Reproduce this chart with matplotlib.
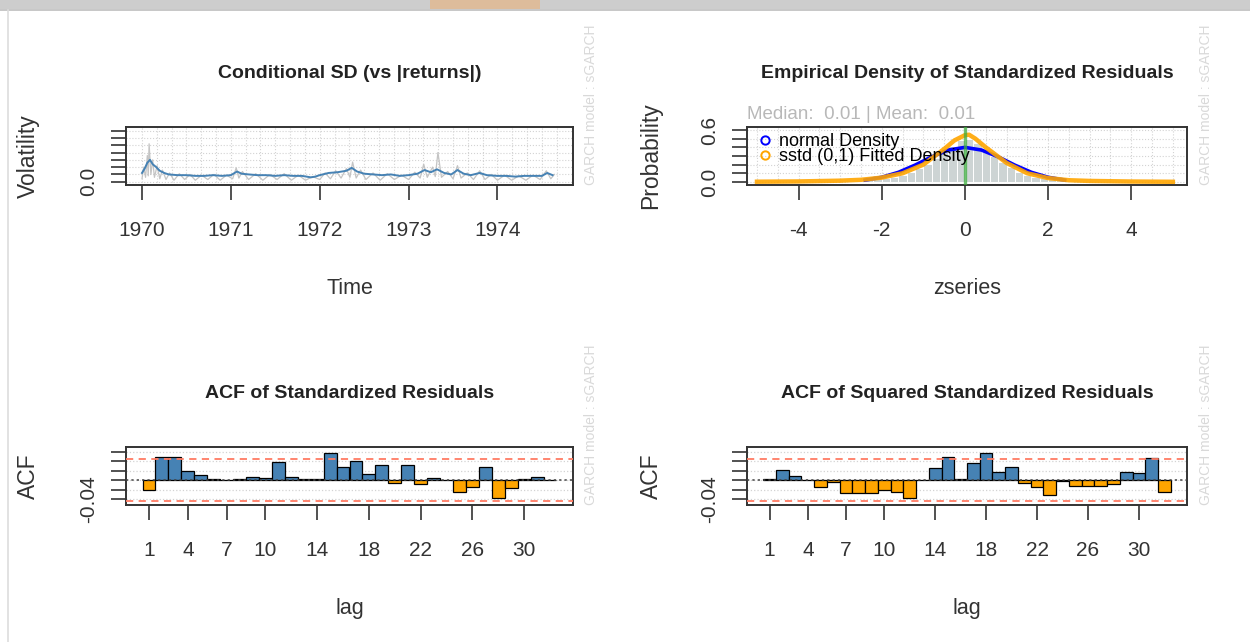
import matplotlib
matplotlib.use("Agg")
import matplotlib.pyplot as plt
import numpy as np
from matplotlib.lines import Line2D
from matplotlib.patches import Rectangle

plt.rcParams["font.family"] = ["Liberation Sans", "DejaVu Sans"]

W, H = 1250, 642

# --- conditional SD panel ---
sigma_time = [1970.00, 1970.03, 1970.06, 1970.09, 1970.12, 1970.16, 1970.20, 1970.25, 1970.30,
              1970.40, 1970.50, 1970.60, 1970.70, 1970.80, 1970.90, 1971.00, 1971.07, 1971.12,
              1971.20, 1971.30, 1971.40, 1971.50, 1971.60, 1971.70, 1971.80, 1971.90, 1971.95,
              1972.00, 1972.10, 1972.20, 1972.30, 1972.36, 1972.42, 1972.50, 1972.60, 1972.70,
              1972.80, 1972.90, 1973.00, 1973.10, 1973.18, 1973.25, 1973.32, 1973.40, 1973.48,
              1973.55, 1973.62, 1973.70, 1973.80, 1973.88, 1974.00, 1974.10, 1974.20, 1974.30,
              1974.40, 1974.50, 1974.56, 1974.62]
sigma_value = [0.012, 0.018, 0.026, 0.030, 0.024, 0.020, 0.015, 0.012, 0.010,
               0.009, 0.009, 0.008, 0.008, 0.009, 0.008, 0.009, 0.014, 0.011,
               0.010, 0.009, 0.009, 0.008, 0.009, 0.008, 0.008, 0.006, 0.007,
               0.009, 0.012, 0.013, 0.015, 0.019, 0.014, 0.011, 0.010, 0.009,
               0.010, 0.008, 0.009, 0.011, 0.016, 0.013, 0.017, 0.012, 0.010,
               0.016, 0.011, 0.009, 0.012, 0.009, 0.008, 0.008, 0.007, 0.008,
               0.008, 0.008, 0.012, 0.009]
absret_time = [1970.00, 1970.02, 1970.04, 1970.06, 1970.07, 1970.08, 1970.10, 1970.12, 1970.14,
               1970.17, 1970.20, 1970.23, 1970.27, 1970.31, 1970.36, 1970.42, 1970.48, 1970.54,
               1970.60, 1970.67, 1970.74, 1970.81, 1970.88, 1970.95, 1971.02, 1971.06, 1971.09,
               1971.13, 1971.20, 1971.28, 1971.36, 1971.44, 1971.52, 1971.60, 1971.68, 1971.76,
               1971.84, 1971.92, 1972.00, 1972.06, 1972.12, 1972.18, 1972.24, 1972.30, 1972.34,
               1972.37, 1972.41, 1972.46, 1972.52, 1972.60, 1972.68, 1972.76, 1972.84, 1972.92,
               1973.00, 1973.07, 1973.13, 1973.17, 1973.21, 1973.27, 1973.30, 1973.33, 1973.37,
               1973.44, 1973.50, 1973.55, 1973.59, 1973.66, 1973.73, 1973.80, 1973.86, 1973.93,
               1974.00, 1974.08, 1974.16, 1974.24, 1974.32, 1974.40, 1974.48, 1974.55, 1974.60,
               1974.64]
absret_value = [0.004, 0.020, 0.006, 0.036, 0.008, 0.052, 0.010, 0.030, 0.006,
                0.022, 0.004, 0.016, 0.003, 0.012, 0.002, 0.011, 0.003, 0.010,
                0.002, 0.009, 0.003, 0.010, 0.002, 0.009, 0.004, 0.019, 0.005,
                0.014, 0.003, 0.011, 0.002, 0.010, 0.003, 0.011, 0.002, 0.009,
                0.002, 0.007, 0.003, 0.012, 0.004, 0.015, 0.005, 0.018, 0.006,
                0.027, 0.005, 0.016, 0.003, 0.012, 0.002, 0.011, 0.003, 0.009,
                0.003, 0.013, 0.005, 0.024, 0.006, 0.020, 0.007, 0.040, 0.006,
                0.014, 0.004, 0.022, 0.005, 0.012, 0.003, 0.015, 0.003, 0.010,
                0.002, 0.009, 0.002, 0.008, 0.002, 0.009, 0.003, 0.015, 0.004,
                0.010]
year_ticks = [1970, 1971, 1972, 1973, 1974]

# --- density panel ---
hist_left = [-2.8, -2.6, -2.4, -2.2, -2.0, -1.8, -1.6, -1.4, -1.2, -1.0, -0.8, -0.6, -0.4, -0.2,
             0.0, 0.2, 0.4, 0.6, 0.8, 1.0, 1.2, 1.4, 1.6, 1.8, 2.0, 2.2, 2.4]
hist_density = [0.010, 0.015, 0.020, 0.030, 0.045, 0.060, 0.080, 0.110, 0.160, 0.210, 0.280, 0.350,
                0.420, 0.480, 0.500, 0.450, 0.380, 0.300, 0.230, 0.170, 0.120, 0.085, 0.060, 0.040,
                0.030, 0.020, 0.012]
normal_x = [-2.4, -2.0, -1.6, -1.2, -0.8, -0.4, 0.0, 0.4, 0.8, 1.2, 1.6, 2.0, 2.4]
normal_y = [0.022, 0.054, 0.111, 0.194, 0.290, 0.368, 0.399, 0.368, 0.290, 0.194, 0.111, 0.054, 0.022]
sstd_x = [-5.0, -4.0, -3.0, -2.5, -2.0, -1.5, -1.0, -0.5, -0.25, 0.0, 0.1, 0.25, 0.5, 1.0, 1.5, 2.0,
          2.5, 3.0, 4.0, 5.0]
sstd_y = [0.003, 0.006, 0.015, 0.025, 0.050, 0.100, 0.200, 0.380, 0.480, 0.540, 0.545, 0.500, 0.400,
          0.220, 0.100, 0.045, 0.020, 0.012, 0.005, 0.002]
median_z = 0.01
mean_z = 0.01

# --- ACF panels ---
lags = list(range(1, 33))
acf_resid = [-0.021, 0.048, 0.048, 0.020, 0.010, 0.002, 0.001, 0.002, 0.006, 0.004, 0.037, 0.006,
             0.002, 0.003, 0.057, 0.028, 0.040, 0.012, 0.031, -0.007, 0.031, -0.009, 0.005, 0.001,
             -0.026, -0.015, 0.028, -0.038, -0.017, 0.002, 0.006, 0.001]
acf_sq_resid = [0.003, 0.022, 0.008, 0.001, -0.014, -0.004, -0.027, -0.027, -0.027, -0.021, -0.025,
                -0.037, 0.001, 0.025, 0.049, 0.003, 0.036, 0.057, 0.017, 0.028, -0.007, -0.014,
                -0.032, -0.002, -0.012, -0.012, -0.013, -0.008, 0.016, 0.014, 0.046, -0.025]
acf_bound = 0.045
lag_labels = [1, 4, 7, 10, 14, 18, 22, 26, 30]

INK = "#333333"
GRIDC = "#d3d3d3"


def panel(fig, x0, y0, x1, y1):
    ax = fig.add_axes([x0 / W, 1 - y1 / H, (x1 - x0) / W, (y1 - y0) / H])
    for s in ax.spines.values():
        s.set_linewidth(1.4)
        s.set_color(INK)
    ax.tick_params(axis="x", direction="out", length=10.5, width=1.2, pad=15.5, labelsize=15, colors=INK)
    ax.tick_params(axis="y", direction="out", length=11, width=1.2, pad=9, labelsize=15, colors=INK)
    return ax


def yticks(ax, ticks, labels):
    ax.set_yticks(ticks)
    ax.set_yticklabels(labels, rotation=90, va="center")


def decorate(ax, title, xlabel, ylabel, wm_x):
    ax.text(0.5, 1.92, title, transform=ax.transAxes, ha="center", va="center",
            fontsize=14, fontweight="bold", color="#222222")
    ax.set_xlabel(xlabel, fontsize=15.5, color=INK)
    ax.xaxis.set_label_coords(0.5, -1.78)
    ax.xaxis.label.set_va("center")
    ax.set_ylabel(ylabel, fontsize=16.5, color=INK)
    ax.yaxis.set_label_coords(-0.218, 0.5)
    ax.yaxis.label.set_va("center")
    ax.text(wm_x, 0.0, "GARCH model : sGARCH", transform=ax.transAxes, rotation=90,
            ha="center", va="bottom", fontsize=10, color="#d9d9d9")


def acf_panel(ax, values):
    pos = [k - 0.5 for k in lags]
    colors = ["steelblue" if v > 0 else "orange" for v in values]
    for gy in [-0.04, -0.02, 0.0, 0.02, 0.04, 0.06]:
        ax.axhline(gy, color=GRIDC, ls=":", lw=0.9, zorder=0)
    ax.bar(pos, values, width=1.0, color=colors, edgecolor="black", linewidth=0.9, zorder=2)
    ax.axhline(acf_bound, color="#ff7b63", ls=(0, (4, 3)), lw=1.3, zorder=3)
    ax.axhline(-acf_bound, color="#ff7b63", ls=(0, (4, 3)), lw=1.3, zorder=3)
    ax.axhline(0, color="#444444", ls=(0, (1.5, 2)), lw=1.1, zorder=3)
    ax.set_xlim(-1.28, 33.28)
    ax.set_ylim(-0.0526, 0.0695)
    ax.set_xticks([pos[k - 1] for k in lag_labels])
    ax.set_xticklabels([str(k) for k in lag_labels])
    yticks(ax, [-0.04, -0.02, 0.0, 0.02, 0.04, 0.06], ["-0.04", "", "", "", "", ""])


def main():
    fig = plt.figure(figsize=(W / 100, H / 100), dpi=100)
    fig.patch.set_facecolor("white")

    # screenshot frame
    fig.add_artist(Rectangle((0, 1 - 9 / H), 1, 9 / H, transform=fig.transFigure,
                             facecolor="#cdcdcd", edgecolor="none"))
    fig.add_artist(Rectangle((430 / W, 1 - 9 / H), 110 / W, 9 / H, transform=fig.transFigure,
                             facecolor="#e8b27a", edgecolor="none", alpha=0.6))
    fig.add_artist(Line2D([0, 1], [1 - 10 / H, 1 - 10 / H], transform=fig.transFigure,
                          color="#bdbdbd", lw=1.2))
    fig.add_artist(Line2D([8 / W, 8 / W], [0, 1 - 10 / H], transform=fig.transFigure,
                          color="#dddddd", lw=1.2))

    # conditional SD
    ax1 = panel(fig, 126, 127, 573, 185)
    for gx in np.arange(1970, 1974.9, 1 / 6):
        ax1.axvline(gx, color=GRIDC, ls=":", lw=0.8, zorder=0)
    for gy in np.arange(0, 0.075, 0.01):
        ax1.axhline(gy, color=GRIDC, ls=":", lw=0.8, zorder=0)
    ax1.plot(absret_time, absret_value, color="#c4c4c4", lw=0.9, zorder=1)
    ax1.plot(sigma_time, sigma_value, color="steelblue", lw=1.4, zorder=2)
    ax1.set_xlim(1969.82, 1974.85)
    ax1.set_ylim(-0.0045, 0.075)
    ax1.set_xticks(year_ticks)
    ax1.set_xticklabels([str(y) for y in year_ticks])
    yticks(ax1, [0, 0.01, 0.02, 0.03, 0.04, 0.05, 0.06, 0.07], ["0.0"] + [""] * 7)
    decorate(ax1, "Conditional SD (vs |returns|)", "Time", "Volatility", 1.04)

    # density
    ax2 = panel(fig, 747, 127, 1187, 185)
    for gx in np.arange(-5, 5.1, 0.5):
        ax2.axvline(gx, color=GRIDC, ls=":", lw=0.8, zorder=0)
    for gy in np.arange(0, 0.65, 0.1):
        ax2.axhline(gy, color=GRIDC, ls=":", lw=0.8, zorder=0)
    ax2.bar(hist_left, hist_density, width=0.2, align="edge", color="#cdd4d4",
            edgecolor="white", linewidth=0.7, zorder=1)
    ax2.plot(normal_x, normal_y, color="blue", lw=2.6, zorder=3)
    ax2.plot(sstd_x, sstd_y, color="orange", lw=3.2, alpha=0.9, zorder=4)
    ax2.axvline(median_z, color="#3fae3f", lw=2.4, alpha=0.75, zorder=5)
    ax2.set_xlim(-5.24, 5.34)
    ax2.set_ylim(-0.035, 0.634)
    ax2.set_xticks([-4, -2, 0, 2, 4])
    ax2.set_xticklabels(["-4", "-2", "0", "2", "4"])
    yticks(ax2, [0, 0.1, 0.2, 0.3, 0.4, 0.5, 0.6], ["0.0", "", "", "", "", "", "0.6"])
    handles = [
        Line2D([], [], ls="none", marker="o", mfc="none", mec="blue", mew=1.4, ms=6),
        Line2D([], [], ls="none", marker="o", mfc="none", mec="orange", mew=1.4, ms=6),
    ]
    ax2.legend(handles, ["normal Density", "sstd (0,1) Fitted Density"], loc="upper left",
               bbox_to_anchor=(0.007, 1.02), frameon=False, fontsize=13, handlelength=0.8,
               handletextpad=0.4, labelspacing=-0.12, borderaxespad=0, borderpad=0.4)
    ax2.text(0.0, 1.21, f"Median:  {median_z:.2f} | Mean:  {mean_z:.2f}", transform=ax2.transAxes,
             ha="left", va="center", fontsize=13.5, color="#b8b8b8")
    decorate(ax2, "Empirical Density of Standardized Residuals", "zseries", "Probability", 1.043)

    # ACF panels
    ax3 = panel(fig, 126, 447, 573, 505)
    acf_panel(ax3, acf_resid)
    decorate(ax3, "ACF of Standardized Residuals", "lag", "ACF", 1.04)

    ax4 = panel(fig, 747, 447, 1187, 505)
    acf_panel(ax4, acf_sq_resid)
    decorate(ax4, "ACF of Squared Standardized Residuals", "lag", "ACF", 1.043)

    fig.savefig("out.png", dpi=100)
    plt.close(fig)


if __name__ == "__main__":
    main()
